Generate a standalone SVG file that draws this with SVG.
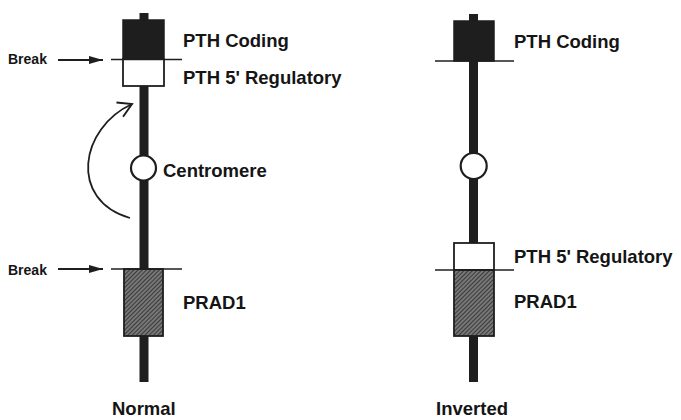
<svg xmlns="http://www.w3.org/2000/svg" width="681" height="420" viewBox="0 0 681 420">
<style>
.lbl{font-family:"Liberation Sans",Arial,sans-serif;font-weight:bold;font-size:18.5px;fill:#151515}
.brk{font-family:"Liberation Sans",Arial,sans-serif;font-weight:bold;font-size:14px;fill:#151515}
.stem{stroke:#1e1e1e;stroke-width:9;fill:none}
.blk{fill:#1e1e1e;stroke:#1e1e1e;stroke-width:1.5}
.wht{fill:#fff;stroke:#1e1e1e;stroke-width:1.8}
.hat{fill:url(#hatch);stroke:#1e1e1e;stroke-width:1.8}
.cen{fill:#fff;stroke:#1e1e1e;stroke-width:2.2}
.bl{stroke:#1e1e1e;stroke-width:1.6;fill:none}
.arr{stroke:#1e1e1e;stroke-width:1.8;fill:none}
</style>
<defs>
<pattern id="hatch" width="3" height="3" patternUnits="userSpaceOnUse" patternTransform="rotate(45)">
<rect width="3" height="3" fill="#777"/>
<line x1="0" y1="0" x2="0" y2="3" stroke="#2a2a2a" stroke-width="1.6"/>
</pattern>
<marker id="tri" viewBox="0 0 14 8" refX="14" refY="4" markerWidth="14" markerHeight="8" markerUnits="userSpaceOnUse" orient="auto">
<path d="M0,0 L14,4 L0,8 Z" fill="#1e1e1e"/>
</marker>
<marker id="open" viewBox="0 0 16 16" refX="14" refY="8" markerWidth="18" markerHeight="18" markerUnits="userSpaceOnUse" orient="auto">
<path d="M2,1 L14,8 L2,15" fill="none" stroke="#1e1e1e" stroke-width="1.7"/>
</marker>
</defs>
<rect width="681" height="420" fill="#fff"/>

<g id="normal-chromosome">
<line class="stem" x1="144" y1="13" x2="144" y2="382"/>
<rect class="blk" x="123" y="20" width="41" height="39"/>
<rect class="wht" x="123" y="59" width="41" height="27"/>
<circle class="cen" cx="143.5" cy="168" r="12.5"/>
<rect class="hat" x="124" y="269" width="39" height="67"/>
<line class="bl" x1="111" y1="59.5" x2="182" y2="59.5"/>
<line class="bl" x1="111" y1="269" x2="182" y2="269"/>
</g>

<g id="inverted-chromosome">
<line class="stem" x1="473.5" y1="14" x2="473.5" y2="382"/>
<rect class="blk" x="454" y="21" width="40" height="40"/>
<circle class="cen" cx="473.7" cy="166" r="13"/>
<rect class="wht" x="454" y="243" width="40" height="27"/>
<rect class="hat" x="454" y="270" width="40" height="66"/>
<line class="bl" x1="435" y1="61" x2="514" y2="61"/>
<line class="bl" x1="435" y1="270" x2="514" y2="270"/>
</g>

<g id="labels">
<text class="lbl" x="183" y="47">PTH Coding</text>
<text class="lbl" x="183" y="84">PTH 5' Regulatory</text>
<text class="lbl" x="163" y="177">Centromere</text>
<text class="lbl" x="183" y="309">PRAD1</text>
<text class="lbl" x="112" y="415">Normal</text>
<text class="lbl" x="514" y="48">PTH Coding</text>
<text class="lbl" x="514" y="263">PTH 5' Regulatory</text>
<text class="lbl" x="514" y="308">PRAD1</text>
<text class="lbl" x="436" y="415">Inverted</text>
<text class="brk" x="8" y="64">Break</text>
<text class="brk" x="8" y="275">Break</text>
</g>

<g id="connectors">
<line class="arr" x1="58" y1="60" x2="103" y2="60" marker-end="url(#tri)"/>
<line class="arr" x1="58" y1="269" x2="103" y2="269" marker-end="url(#tri)"/>
<path class="arr" d="M130,218 C68,200 80,128 132,104" marker-end="url(#open)"/>
</g>
</svg>
